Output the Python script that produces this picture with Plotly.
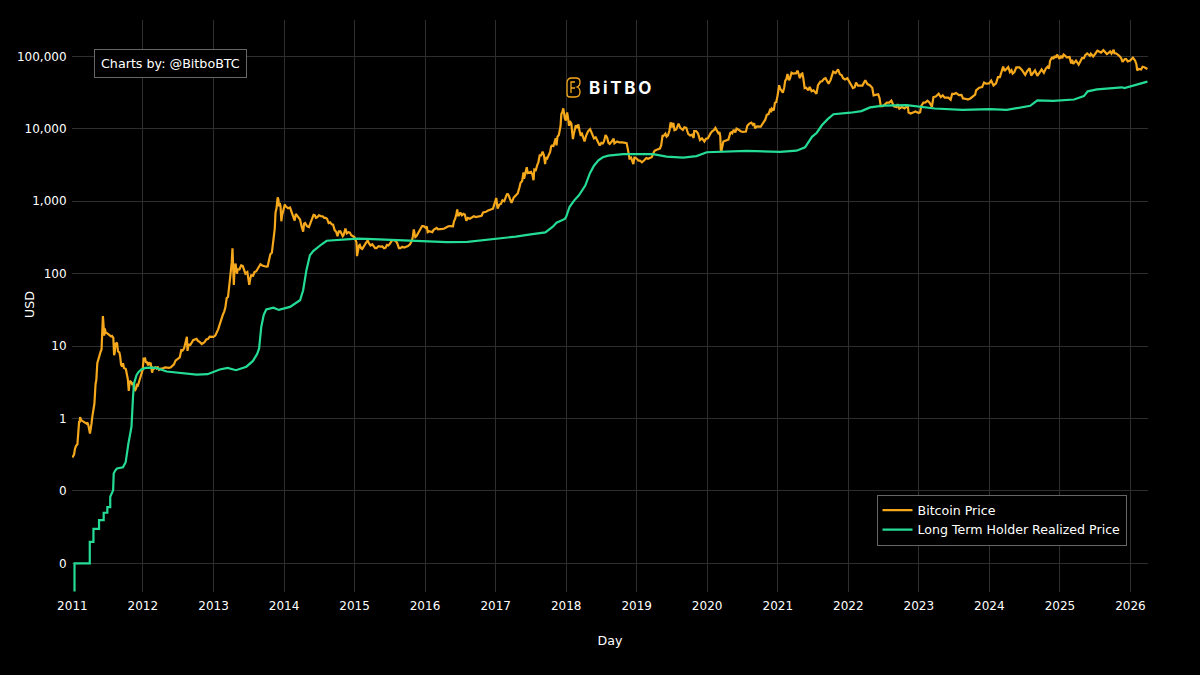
import plotly.graph_objects as go

price_2011 = [("01-01",0.29),("01-06",0.31),("01-10",0.32),("01-14",0.38),("01-20",0.42),("01-27",0.44),("02-01",0.7),("02-05",0.92),("02-08",0.88),("02-10",1.05),("02-15",0.95),("02-22",0.92),("03-01",0.9),("03-08",0.87),("03-15",0.85),("03-20",0.88),("03-25",0.8),("04-02",0.62),("04-05",0.75),("04-10",0.85),("04-15",1.1),("04-25",1.6),("05-01",3.0),("05-05",3.4),("05-10",5.8),("05-15",6.6),("05-20",6.8),("05-26",8.2),("06-01",9),("06-03",14),("06-05",18),("06-08",26),("06-10",22),("06-12",15),("06-15",14),("06-18",17.5),("06-22",15.5),("07-01",15),("07-08",14.6),("07-15",14),("07-20",13.6),("07-25",13.8),("08-01",13),("08-05",7.5),("08-08",8),("08-12",11),("08-15",10.8),("08-20",11.2),("08-25",8.5),("09-01",8.2),("09-05",7.4),("09-10",5.6),("09-15",5.2),("09-20",5.8),("09-25",5),("10-01",4.9),("10-05",4.8),("10-10",4.1),("10-15",3.5),("10-20",2.4),("10-25",3.3),("11-01",3.2),("11-06",3.0),("11-12",3.1),("11-20",2.4),("11-27",2.6),("12-01",3.0),("12-07",2.9),("12-12",3.2),("12-20",4),("12-26",4.2),("12-31",4.7)]
price_2012 = [("01-05",6.9),("01-09",6.6),("01-13",6.7),("01-17",5.9),("01-22",6.1),("01-28",5.4),("02-01",6),("02-06",5.7),("02-10",5.9),("02-15",4.9),("02-18",4.3),("02-23",5.0),("02-28",4.9),("03-05",5.1),("03-12",4.9),("03-18",5.2),("03-25",4.7),("04-03",4.9),("04-12",4.9),("04-25",5.1),("05-05",5.05),("05-15",5.0),("05-25",5.1),("06-03",5.3),("06-10",5.6),("06-18",6.3),("06-25",6.5),("07-03",6.7),("07-10",7.0),("07-18",8.8),("07-25",8.7),("08-02",9.4),("08-08",10.8),("08-16",13.5),("08-19",8.6),("08-25",10.5),("09-03",10.4),("09-10",11),("09-18",12.2),("09-25",12.3),("10-05",12.6),("10-12",11.8),("10-20",11.5),("11-01",10.7),("11-08",10.9),("11-15",11.3),("11-25",12.4),("12-03",12.5),("12-12",13.5),("12-20",13.4),("12-31",13.4)]
price_2013 = [("01-10",14),("01-18",15.5),("01-25",17),("02-02",20),("02-10",24),("02-18",27),("02-25",30),("03-03",34),("03-10",46),("03-17",48),("03-25",75),("04-01",105),("04-05",142),("04-09",225),("04-12",90),("04-14",110),("04-16",70),("04-20",120),("04-25",138),("05-02",100),("05-06",115),("05-15",115),("05-24",130),("06-01",128),("06-08",108),("06-15",100),("06-25",105),("07-01",88),("07-05",70),("07-10",85),("07-15",95),("07-25",94),("08-01",105),("08-10",108),("08-20",120),("09-01",135),("09-10",130),("09-18",127),("09-25",125),("10-01",125),("10-08",126),("10-15",150),("10-22",185),("10-30",195),("11-05",260),("11-10",330),("11-14",420),("11-18",700),("11-23",800),("11-29",1130),("12-03",1050),("12-06",850),("12-10",950),("12-14",850),("12-18",530),("12-22",640),("12-27",740)]
price_2014 = [("01-05",900),("01-10",850),("01-15",830),("01-22",800),("02-01",820),("02-06",760),("02-10",680),("02-17",620),("02-25",540),("03-03",670),("03-10",630),("03-18",600),("03-25",560),("04-02",450),("04-10",380),("04-15",490),("04-20",500),("05-01",450),("05-10",440),("05-20",520),("05-27",590),("06-03",650),("06-10",640),("06-15",590),("06-22",600),("07-01",640),("07-10",625),("07-20",620),("07-28",590),("08-05",590),("08-12",570),("08-20",500),("08-28",510),("09-05",480),("09-12",475),("09-20",400),("09-28",380),("10-05",330),("10-12",385),("10-20",385),("11-01",330),("11-05",340),("11-15",420),("11-22",360),("12-01",375),("12-08",370),("12-15",340),("12-24",325),("12-31",320)]
price_2015 = [("01-07",290),("01-11",270),("01-14",175),("01-18",210),("01-24",245),("01-28",250),("02-04",225),("02-10",220),("02-18",240),("02-25",255),("03-04",275),("03-10",290),("03-18",260),("03-25",245),("04-03",255),("04-10",240),("04-18",225),("04-25",225),("05-05",240),("05-15",237),("05-25",238),("06-03",225),("06-10",228),("06-18",250),("06-25",245),("07-03",258),("07-10",285),("07-15",290),("07-25",290),("08-03",282),("08-10",265),("08-19",225),("08-27",225),("09-05",235),("09-15",230),("09-25",235),("10-05",240),("10-15",255),("10-25",285),("10-30",325),("11-04",410),("11-09",345),("11-12",320),("11-18",330),("11-25",355),("12-03",375),("12-10",420),("12-17",455),("12-25",455)]
price_2016 = [("01-05",430),("01-10",450),("01-15",375),("01-22",385),("02-01",375),("02-08",375),("02-15",405),("02-24",425),("03-01",430),("03-08",410),("03-20",410),("04-01",415),("04-10",420),("04-20",440),("05-01",450),("05-10",455),("05-18",452),("05-25",450),("05-30",530),("06-05",570),("06-12",680),("06-16",770),("06-20",640),("06-25",640),("07-02",700),("07-10",640),("07-18",670),("07-25",655),("08-02",540),("08-10",590),("08-20",575),("09-01",610),("09-10",620),("09-20",605),("10-01",610),("10-10",620),("10-20",630),("10-28",700),("11-05",700),("11-12",715),("11-20",740),("12-01",750),("12-10",775),("12-18",790),("12-25",890)]
price_2017 = [("01-01",1000),("01-04",1110),("01-08",900),("01-11",790),("01-20",900),("01-28",920),("02-05",1030),("02-14",1000),("02-25",1190),("03-03",1280),("03-10",1190),("03-17",1090),("03-24",950),("04-05",1130),("04-14",1180),("04-25",1280),("05-04",1550),("05-10",1800),("05-18",1900),("05-25",2500),("05-28",2050),("06-04",2520),("06-11",2950),("06-16",2450),("06-25",2500),("07-03",2550),("07-10",2350),("07-16",1950),("07-20",2750),("07-28",2700),("08-05",3200),("08-10",3450),("08-17",4300),("08-24",4300),("09-01",4850),("09-08",4300),("09-14",3250),("09-18",4050),("09-25",3900),("10-03",4350),("10-10",4800),("10-15",5700),("10-20",5900),("10-27",5800),("11-05",7400),("11-08",7400),("11-12",5900),("11-17",7800),("11-24",8200),("11-28",9800),("12-03",11000),("12-07",16000),("12-12",17000),("12-17",19200),("12-22",14000),("12-25",14000),("12-30",13000)]
price_2018 = [("01-06",16800),("01-10",14500),("01-16",11000),("01-20",12800),("01-28",11700),("02-01",9000),("02-05",7200),("02-10",8600),("02-20",11200),("02-27",10300),("03-05",11500),("03-11",9500),("03-18",8000),("03-22",8900),("04-01",7000),("04-06",6700),("04-14",8000),("04-25",9300),("05-05",9900),("05-14",8700),("05-25",7400),("06-03",7650),("06-10",6800),("06-16",6500),("06-24",5900),("07-02",6400),("07-10",6300),("07-16",6700),("07-24",8200),("08-01",7600),("08-08",6400),("08-14",6200),("08-25",6700),("09-04",7300),("09-08",6300),("09-14",6500),("09-22",6700),("10-03",6500),("10-10",6550),("10-18",6500),("11-03",6400),("11-10",6350),("11-15",5500),("11-20",4500),("11-25",3900),("12-03",4000),("12-15",3250),("12-20",4000),("12-24",4000)]
price_2019 = [("01-05",3800),("01-10",3650),("01-18",3650),("01-28",3450),("02-08",3650),("02-20",3950),("03-01",3850),("03-10",3900),("03-20",4050),("04-02",4900),("04-05",5000),("04-15",5150),("05-01",5350),("05-08",5900),("05-15",8000),("05-20",8000),("05-30",8600),("06-05",7800),("06-12",8100),("06-20",9500),("06-26",12300),("07-02",10500),("07-10",12100),("07-16",9600),("07-25",9800),("08-06",11800),("08-15",10300),("08-28",9700),("09-05",10500),("09-15",10300),("09-25",8500),("10-05",8100),("10-15",8300),("10-23",7500),("10-26",9300),("11-05",9300),("11-15",8600),("11-25",7000),("12-05",7400),("12-18",6700),("12-26",7300)]
price_2020 = [("01-05",7400),("01-12",8100),("01-19",8700),("01-28",9300),("02-05",9600),("02-13",10300),("02-20",9700),("02-28",8700),("03-05",9000),("03-09",7900),("03-12",5000),("03-16",5100),("03-25",6700),("04-03",6800),("04-10",6900),("04-20",7100),("04-30",8800),("05-05",9000),("05-10",8700),("05-18",9700),("05-26",8900),("06-01",10100),("06-10",9800),("06-25",9200),("07-05",9100),("07-20",9200),("07-27",11000),("08-05",11700),("08-17",12200),("08-25",11400),("09-01",11900),("09-05",10200),("09-15",10800),("09-25",10700),("10-05",10700),("10-10",11300),("10-21",12900),("10-28",13400),("11-05",15600),("11-14",16000),("11-24",19000),("11-27",17000),("12-01",19000),("12-11",18000),("12-17",22800),("12-24",23500),("12-31",29000)]
price_2021 = [("01-08",40000),("01-13",36000),("01-22",32000),("01-27",31500),("02-03",37000),("02-08",46000),("02-14",48500),("02-20",57000),("02-28",47000),("03-05",50000),("03-13",59500),("03-20",58000),("03-30",58500),("04-05",58500),("04-14",63500),("04-18",56000),("04-25",50000),("05-03",57000),("05-08",58000),("05-13",50000),("05-20",36500),("05-28",37000),("06-08",34000),("06-15",38000),("06-25",33000),("07-05",34000),("07-20",30500),("07-28",40000),("08-10",45000),("08-18",45500),("08-28",49000),("09-05",50000),("09-12",45500),("09-21",42000),("10-01",47000),("10-08",54000),("10-15",61500),("10-27",59000),("11-09",66000),("11-18",57000),("11-28",55000),("12-05",50000),("12-15",48000),("12-27",50000)]
price_2022 = [("01-05",45000),("01-12",43500),("01-25",36500),("02-03",37500),("02-10",43500),("02-20",39500),("03-05",39500),("03-15",39500),("03-30",47000),("04-10",41500),("04-22",40000),("05-05",37000),("05-12",29000),("05-20",29500),("06-05",30000),("06-12",26500),("06-18",20500),("06-28",20500),("07-08",21500),("07-20",23000),("08-01",23000),("08-12",24500),("08-25",20500),("09-08",20000),("09-13",22000),("09-22",19000),("10-05",20000),("10-20",19200),("11-05",21000),("11-09",16800),("11-20",16300),("12-05",17000),("12-15",17400),("12-31",16600)]
price_2023 = [("01-08",17000),("01-14",20800),("01-25",23000),("02-05",23200),("02-15",24500),("02-25",23200),("03-10",20200),("03-18",27500),("03-30",28000),("04-14",30500),("04-25",27500),("05-05",29000),("05-15",27000),("06-03",27000),("06-15",25200),("06-23",30500),("07-05",30500),("07-13",31300),("07-28",29300),("08-10",29400),("08-18",26300),("09-05",25800),("09-12",25400),("09-25",26300),("10-05",27500),("10-20",29700),("10-25",34000),("11-10",37000),("11-25",37700),("12-05",43500),("12-15",42000),("12-31",42500)]
price_2024 = [("01-11",46500),("01-23",39800),("02-05",42600),("02-15",51800),("02-25",51700),("03-05",65000),("03-13",72500),("03-20",63000),("04-01",70000),("04-08",71500),("04-17",61000),("04-25",64500),("05-01",58000),("05-10",61000),("05-20",70500),("06-05",70800),("06-18",65000),("07-05",55500),("07-15",62500),("07-28",68500),("08-05",54500),("08-15",58500),("08-25",64000),("09-06",54000),("09-18",61000),("09-28",66000),("10-10",59500),("10-20",68000),("10-29",72000),("11-05",68000),("11-11",87000),("11-22",98000),("11-27",92000),("12-05",101000),("12-10",96000),("12-17",106000),("12-30",92500)]
price_2025 = [("01-06",102000),("01-13",94500),("01-20",106000),("01-28",102000),("02-05",97000),("02-20",98000),("02-28",80000),("03-05",90000),("03-11",79000),("03-25",87500),("04-08",77000),("04-15",84000),("04-25",94500),("05-05",94500),("05-12",104000),("05-22",110000),("06-05",102000),("06-10",109000),("06-22",100000),("07-03",109000),("07-14",120000),("07-25",116000),("08-02",113000),("08-14",122000),("08-25",111000),("09-01",108000),("09-10",112000),("09-18",117000),("09-25",109500),("10-06",124000),("10-10",111000),("10-20",110000),("11-04",102000),("11-14",95000),("11-21",84000),("12-03",92000),("12-10",92000),("12-18",85500),("12-31",88000)]
price_2026 = [("01-06",93000),("01-14",96000),("01-25",88000),("02-01",78000),("02-05",64000),("02-12",67000),("02-25",66000),("03-05",72000),("03-14",71000),("03-20",69000),("03-30",67000)]
price_years = [(2011,price_2011),(2012,price_2012),(2013,price_2013),(2014,price_2014),(2015,price_2015),(2016,price_2016),(2017,price_2017),(2018,price_2018),(2019,price_2019),(2020,price_2020),(2021,price_2021),(2022,price_2022),(2023,price_2023),(2024,price_2024),(2025,price_2025),(2026,price_2026)]

lth_steps = [("2011-01-12",0.0041),("2011-01-12",0.01),("2011-04-01",0.01),("2011-04-01",0.0198),("2011-04-20",0.0198),("2011-04-20",0.03),("2011-05-19",0.03),("2011-05-19",0.0395),("2011-06-12",0.0395),("2011-06-12",0.05),("2011-07-01",0.05),("2011-07-01",0.06),("2011-07-16",0.06),("2011-07-16",0.083),("2011-07-31",0.102)]
lth_early = [("2011-08-03",0.174),("2011-08-10",0.19),("2011-08-20",0.204),("2011-09-20",0.212),("2011-10-04",0.25),("2011-10-18",0.45),("2011-11-03",0.77),("2011-11-11",2.0),("2011-11-16",3.04),("2011-11-29",3.96),("2011-12-10",4.4),("2011-12-24",4.75),("2012-01-15",5.0),("2012-02-05",5.06),("2012-03-10",5.0),("2012-05-03",4.46),("2012-07-10",4.3),("2012-08-25",4.1),("2012-10-05",4.05),("2012-12-01",4.1),("2013-01-05",4.4),("2013-02-02",4.75),("2013-03-15",5.0),("2013-04-27",4.65),("2013-06-20",5.2),("2013-07-24",6.25),("2013-08-15",7.8),("2013-08-25",9.3),("2013-09-05",18.4),("2013-09-18",27),("2013-10-01",32),("2013-11-07",34),("2013-12-05",31.6),("2014-02-01",34.8),("2014-03-25",43),("2014-04-10",59),("2014-04-27",112),("2014-05-15",180),("2014-06-01",205),("2014-06-17",223),("2014-07-15",255),("2014-08-10",285)]
lth_mid = [("2014-11-20",300),("2015-01-15",305),("2015-03-03",302),("2015-08-24",290),("2016-01-08",280),("2016-04-22",273),("2016-08-08",275),("2016-11-01",290),("2017-01-26",310),("2017-04-15",325),("2017-07-01",350),("2017-09-15",372),("2017-10-24",445),("2017-11-12",505),("2017-12-25",570),("2018-01-01",610),("2018-01-19",840),("2018-02-12",1030),("2018-03-07",1200),("2018-04-10",1650),("2018-05-04",2440),("2018-05-25",3100),("2018-06-17",3680),("2018-07-10",4050),("2018-08-07",4270),("2018-10-23",4470),("2019-03-27",4470),("2019-06-05",4130),("2019-08-30",4000),("2019-11-07",4200),("2019-12-30",4750),("2020-07-24",4970),("2021-01-12",4800),("2021-04-08",5000),("2021-05-22",5560),("2021-06-27",7770),("2021-07-22",8840),("2021-08-17",11200),("2021-09-15",13500),("2021-10-16",15900)]
lth_late = [("2022-01-12",16700),("2022-03-10",17600),("2022-04-24",19800),("2022-07-01",20900),("2022-10-30",21200),("2023-01-25",20000),("2023-03-25",19100),("2023-08-15",18300),("2024-01-05",18700),("2024-04-01",18300),("2024-07-31",20800),("2024-08-20",22800),("2024-09-06",24700),("2024-11-27",24300),("2025-03-15",25400),("2025-05-05",28300),("2025-05-25",33000),("2025-07-12",35000),("2025-11-18",37500),("2025-12-01",36500),("2026-03-30",44800)]

price_dates = [f"{y}-{d}" for y, rows in price_years for d, _ in rows]
price_values = [v for _, rows in price_years for _, v in rows]
lth_rows = lth_steps + lth_early + lth_mid + lth_late
lth_dates = [d for d, _ in lth_rows]
lth_values = [v for _, v in lth_rows]

fig = go.Figure()
fig.add_trace(go.Scatter(x=price_dates, y=price_values, mode="lines", name="Bitcoin Price",
                         line=dict(color="#F5A81C", width=2.2)))
fig.add_trace(go.Scatter(x=lth_dates, y=lth_values, mode="lines", name="Long Term Holder Realized Price",
                         line=dict(color="#24DC96", width=2.2)))

W, H = 1200, 675
L, R, T, B = 72, 1148, 20, 592
FONT = "DejaVu Sans"
SIZE = 12.6
TICK = 12
fig.update_layout(
    width=W, height=H,
    margin=dict(l=L, r=W - R, t=T, b=H - B, pad=0),
    paper_bgcolor="#000000", plot_bgcolor="#000000",
    font=dict(family=FONT, color="#FFFFFF", size=SIZE),
    hovermode="x unified",
    legend=dict(x=(876.5 - L) / (R - L), xanchor="left", y=(B - 494.5) / (B - T), yanchor="top",
                bgcolor="#000000", bordercolor="#666666", borderwidth=1, font=dict(size=SIZE)),
    xaxis=dict(type="date", range=["2010-12-30", "2026-04-02"], dtick="M12", tickformat="%Y",
               automargin=False, tickfont=dict(size=TICK),
               showgrid=True, gridcolor="#2E2E2E", gridwidth=1, zeroline=False, showline=False,
               ticks="outside", ticklen=3, tickcolor="#000000",
               title=dict(text="Day", font=dict(size=SIZE), standoff=23)),
    yaxis=dict(type="log", range=[-2.395, 5.503], dtick=1, tickformat=",.0f",
               automargin=False, tickfont=dict(size=TICK),
               showgrid=True, gridcolor="#2E2E2E", gridwidth=1, zeroline=False, showline=False,
               ticks="outside", ticklen=2, tickcolor="#000000"),
    annotations=[
        dict(text="USD", xref="paper", yref="paper", x=(29 - L) / (R - L), y=(B - 305) / (B - T),
             xanchor="center", yanchor="middle", textangle=-90, showarrow=False,
             font=dict(size=SIZE, color="#FFFFFF")),
        dict(text="Charts by: @BitboBTC", xref="paper", yref="paper",
             x=(170 - L) / (R - L), y=(B - 63.7) / (B - T), xanchor="center", yanchor="middle",
             showarrow=False, font=dict(size=12.7, color="#FFFFFF"), bgcolor="#000000",
             bordercolor="#666666", borderwidth=1, borderpad=6),
        dict(text="<b>B\u2009i\u2009T\u2009B\u2009O</b>", xref="paper", yref="paper",
             x=(619.5 - L) / (R - L), y=(B - 88) / (B - T), xanchor="center", yanchor="middle",
             showarrow=False, font=dict(size=17, color="#FFFFFF", family="Inter")),
    ],
    shapes=[
        dict(type="path", xref="paper", yref="paper", xsizemode="pixel", ysizemode="pixel",
             xanchor=(567 - L) / (R - L), yanchor=(B - 97) / (B - T),
             path="M 0 3 L 0 14 Q 0 19 5 19 L 9 19 Q 13 19 13 15 Q 13 11 10 10 Q 13 9 13 5 Q 13 0 8 0 L 3 0 Q 0 0 0 3 Z M 4 4 L 4 15 L 8 15 M 4 9 L 8 9",
             line=dict(color="#F5A81C", width=1.3)),
    ],
)
fig.write_html("out.html", config=dict(displayModeBar=False), post_script='document.body.style.margin="0";')
